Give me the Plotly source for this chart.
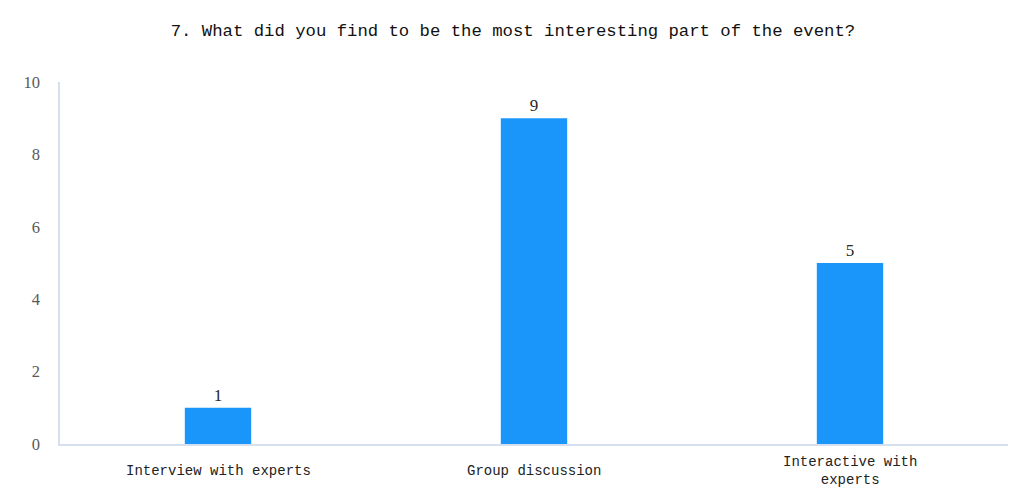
import plotly.graph_objects as go

categories = ["Interview with experts", "Group discussion", "Interactive with<br>experts"]
values = [1, 9, 5]
y_ticks = [0, 2, 4, 6, 8, 10]

fig = go.Figure()
fig.add_trace(go.Bar(
    x=list(range(len(categories))),
    y=values,
    width=0.21,
    marker=dict(color="#1a96fb", line=dict(width=0)),
    text=[str(v) for v in values],
    textposition="outside",
    textfont=dict(family="Liberation Serif", size=17, color="#262626"),
    cliponaxis=False,
))

for i, c in enumerate(categories):
    fig.add_annotation(
        x=i, y=0, xref="x", yref="paper", text=c, showarrow=False,
        yanchor="middle", xanchor="center", yshift=-27,
        font=dict(family="Liberation Mono", size=14, color="#222222"),
        align="center",
    )

fig.update_layout(
    width=1016, height=492,
    paper_bgcolor="white", plot_bgcolor="white",
    margin=dict(l=52, r=16, t=74, b=56),
    showlegend=False,
    title=dict(
        text="7. What did you find to be the most interesting part of the event?",
        x=0.497, xanchor="center", y=0.955, yanchor="middle",
        font=dict(family="Liberation Mono", size=17.3, color="#111111"),
    ),
    xaxis=dict(
        range=[-0.5, 2.5], showticklabels=False, showgrid=False, zeroline=False,
        showline=True, linecolor="#d6dfee", linewidth=1.5, ticks="",
    ),
    yaxis=dict(
        range=[0, 10], tickvals=y_ticks, showgrid=False, zeroline=False,
        showline=True, linecolor="#d6dfee", linewidth=1.5, ticks="",
        ticklabelstandoff=15,
        tickfont=dict(family="Liberation Serif", size=16.5, color="#595959"),
    ),
)

fig.write_html("out.html")
